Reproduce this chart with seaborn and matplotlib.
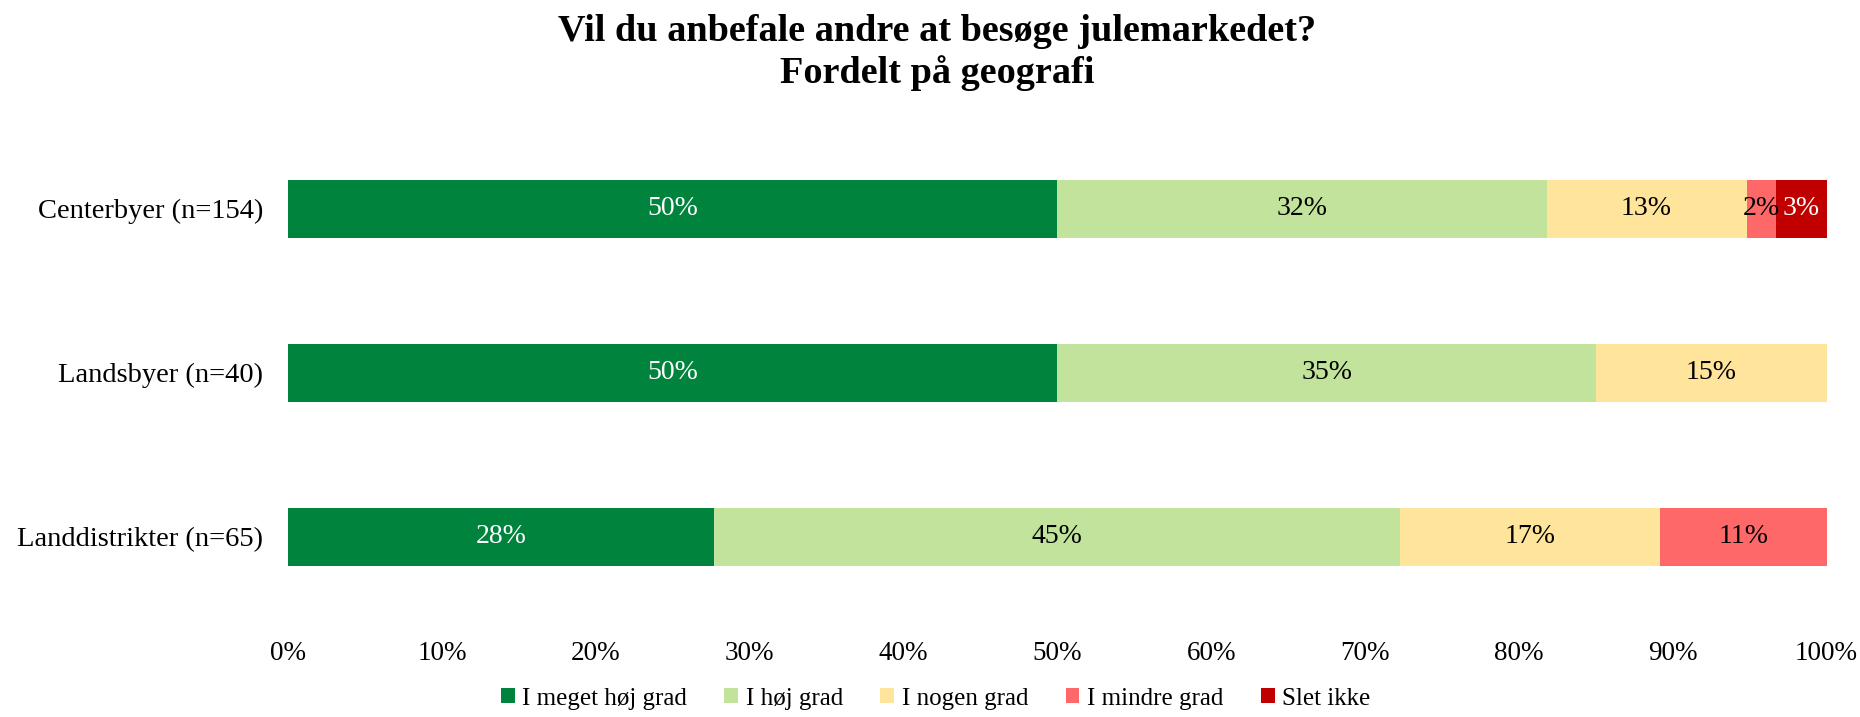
import numpy as np
import pandas as pd
import matplotlib
matplotlib.use("Agg")
import matplotlib.pyplot as plt
import seaborn as sns
from matplotlib.patches import Patch

# data (shares in %)
groups = ["Centerbyer (n=154)", "Landsbyer (n=40)", "Landdistrikter (n=65)"]
answers = ["I meget høj grad", "I høj grad", "I nogen grad", "I mindre grad", "Slet ikke"]
meget_hoej = [50.0, 50.0, 27.7]
hoej = [31.8, 35.0, 44.6]
nogen = [13.0, 15.0, 16.9]
mindre = [1.9, 0.0, 10.8]
slet_ikke = [3.3, 0.0, 0.0]
x_ticks = [0, 10, 20, 30, 40, 50, 60, 70, 80, 90, 100]

colors = ["#00843D", "#C1E39B", "#FFE49B", "#FF6868", "#C00000"]
label_colors = ["white", "black", "black", "black", "white"]

sns.set_theme(style="white")
plt.rcParams["font.family"] = ["Liberation Serif", "DejaVu Serif"]
plt.rcParams["text.color"] = "black"
plt.rcParams["xtick.color"] = "black"
plt.rcParams["ytick.color"] = "black"

df = pd.DataFrame({"gruppe": groups, answers[0]: meget_hoej, answers[1]: hoej,
                   answers[2]: nogen, answers[3]: mindre, answers[4]: slet_ikke})
cum = df[answers].cumsum(axis=1)

fig = plt.figure(figsize=(18.6, 7.17), dpi=100)
ax = fig.add_axes([0.155, 0.114, 0.827, 0.755])

# draw cumulative bars from the back so they look stacked
for i in range(len(answers) - 1, -1, -1):
    sns.barplot(x=cum[answers[i]], y=df["gruppe"], color=colors[i], orient="h",
                width=0.355, saturation=1, ax=ax, linewidth=0)

for i, a in enumerate(answers):
    for j in range(len(groups)):
        v = df[a][j]
        if v <= 0:
            continue
        centre = cum[a][j] - v / 2
        ax.text(centre, j, f"{v:.0f}%", ha="center", va="center",
                fontsize=20, color=label_colors[i])

ax.set_xlim(0, 100)
ax.set_ylim(2.6, -0.7)
ax.set_xticks(x_ticks)
ax.set_xticklabels([f"{t}%" for t in x_ticks], fontsize=19.5)
ax.tick_params(axis="y", labelsize=20.5, length=0, pad=18)
ax.tick_params(axis="x", length=0, pad=4)
ax.set_xlabel("")
ax.set_ylabel("")
for s in ax.spines.values():
    s.set_visible(False)

fig.suptitle("Vil du anbefale andre at besøge julemarkedet?\nFordelt på geografi",
             x=0.504, y=0.98, fontsize=27.5, fontweight="bold", linespacing=1.2)

handles = [Patch(facecolor=c, edgecolor="none") for c in colors]
fig.legend(handles, answers, loc="lower center", bbox_to_anchor=(0.503, -0.021),
           ncol=5, frameon=False, fontsize=18, handlelength=0.55, handleheight=0.55,
           handletextpad=0.3, columnspacing=1.5)

fig.savefig("out.png", dpi=100)
